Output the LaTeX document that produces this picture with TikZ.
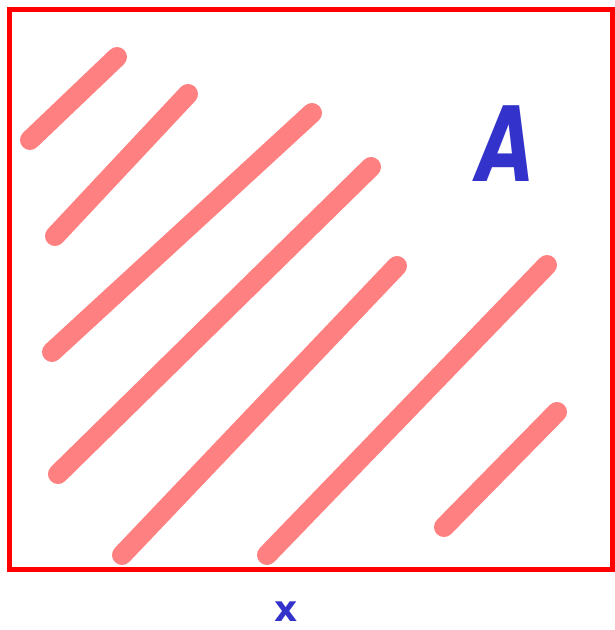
\documentclass[tikz,border=0pt]{standalone}
\usepackage{fontspec}
\newfontfamily\handfont{DejaVu Sans}
\definecolor{hatch}{HTML}{FF8080}
\definecolor{boxred}{HTML}{FF0000}
\definecolor{inkblue}{HTML}{3333CC}
\begin{document}
\begin{tikzpicture}[x=1pt,y=-1pt,
  hatchline/.style={draw=hatch,line width=20pt,line cap=round},
  frame/.style={draw=boxred,line width=5pt},
  label/.style={text=inkblue,inner sep=0pt}]
\useasboundingbox (0,0) rectangle (615,630);
\fill[white] (0,0) rectangle (615,630);
% hatch lines
\coordinate (a1) at (30,140);  \coordinate (b1) at (117,57);
\coordinate (a2) at (55,236);  \coordinate (b2) at (188,94);
\coordinate (a3) at (52,352);  \coordinate (b3) at (312,113);
\coordinate (a4) at (58,474);  \coordinate (b4) at (371,167);
\coordinate (a5) at (122,555); \coordinate (b5) at (397,266);
\coordinate (a6) at (267,555); \coordinate (b6) at (547,265);
\coordinate (a7) at (444,527); \coordinate (b7) at (557,412);
\foreach \i in {1,...,7} {\draw[hatchline] (a\i) -- (b\i);}
% frame
\draw[frame] (9.5,9.5) rectangle (612.5,569.5);
% labels
\node[label,xscale=0.72,font={\handfont\fontsize{104}{104}\selectfont\bfseries\slshape}] (A) at (506,144) {A};
\node[label,font={\handfont\fontsize{36}{36}\selectfont\bfseries}] (x) at (286,612) {x};
\end{tikzpicture}
\end{document}
